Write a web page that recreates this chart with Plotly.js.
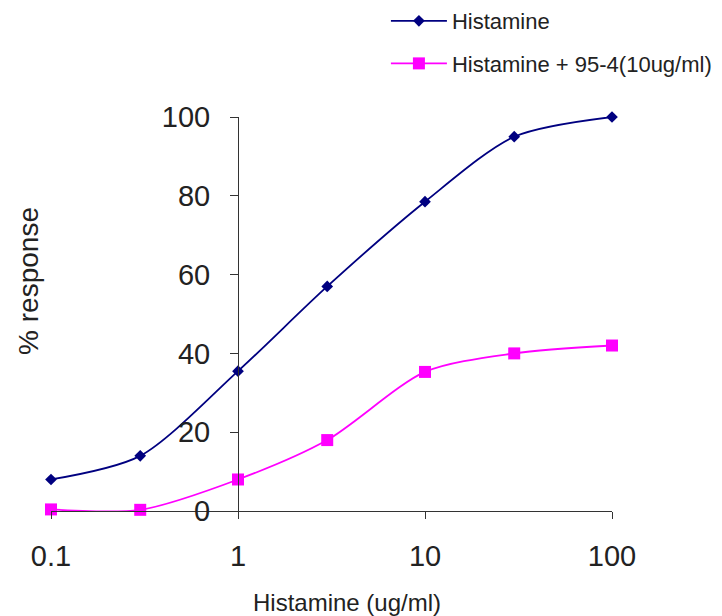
<!DOCTYPE html>
<html>
<head>
<meta charset="utf-8">
<script src="https://cdn.plot.ly/plotly-3.0.1.min.js"></script>
<style>html,body{margin:0;padding:0;background:#fff;}#chart{width:722px;height:616px;}</style>
</head>
<body>
<div id="chart"></div>
<script>
const doses = [0.1, 0.3, 1, 3, 10, 30, 100];
const histamine = [8, 14, 35.5, 57, 78.5, 95, 100];
const histamine954 = [0.4, 0.3, 8, 18, 35.3, 40, 42];
const seriesNames = ["Histamine", "Histamine + 95-4(10ug/ml)"];
const xTickVals = [0.1, 1, 10, 100];
const xTickText = ["0.1", "1", "10", "100"];
const yTickVals = [0, 20, 40, 60, 80, 100];
const xTitle = "Histamine (ug/ml)";
const yTitle = "% response";

const traces = [
  {
    x: doses, y: histamine, name: seriesNames[0], type: "scatter", mode: "lines+markers",
    line: {color: "#000080", width: 1.8, shape: "spline", smoothing: 0.8},
    marker: {symbol: "diamond", size: 9, color: "#000080"},
    cliponaxis: false, legendgroup: "a"
  },
  {
    x: doses, y: histamine954, name: seriesNames[1], type: "scatter", mode: "lines+markers",
    line: {color: "#FF00FF", width: 1.8, shape: "spline", smoothing: 0.8},
    marker: {symbol: "square", size: 12, color: "#FF00FF"},
    cliponaxis: false, legendgroup: "b"
  }
];

const layout = {
  width: 722, height: 616,
  margin: {l: 51, r: 110, t: 117, b: 105, autoexpand: false},
  paper_bgcolor: "#fff", plot_bgcolor: "rgba(0,0,0,0)",
  font: {family: "Liberation Sans, Arial, sans-serif", color: "#222"},
  showlegend: true,
  legend: {
    x: 0.597, y: 1.297, xanchor: "left", yanchor: "top",
    font: {size: 22, color: "#222"},
    itemwidth: 56,
    traceorder: "grouped", tracegroupgap: 11,
    bgcolor: "rgba(0,0,0,0)"
  },
  xaxis: {
    type: "log", range: [-1, 2],
    tickvals: xTickVals, ticktext: xTickText,
    showgrid: false, zeroline: false,
    showline: true, linecolor: "#333", linewidth: 1.2,
    ticks: "outside", ticklen: 7, tickcolor: "#333",
    ticklabelstandoff: 12,
    tickfont: {size: 29, color: "#222"}
  },
  yaxis: {
    range: [0, 100], tickvals: yTickVals,
    anchor: "free", position: 1/3, side: "left",
    showgrid: false, zeroline: false,
    showline: true, linecolor: "#333", linewidth: 1.2,
    ticks: "outside", ticklen: 8, tickcolor: "#333",
    ticklabelstandoff: 14,
    tickfont: {size: 29, color: "#222"}
  },
  annotations: [
    {text: yTitle, xref: "paper", yref: "paper", x: -0.0392, y: 0.584,
     xanchor: "center", yanchor: "middle", textangle: -90, showarrow: false,
     font: {size: 28, color: "#222"}},
    {text: xTitle, xref: "paper", yref: "paper", x: 0.5276, y: -0.2335,
     xanchor: "center", yanchor: "middle", showarrow: false,
     font: {size: 24, color: "#222"}}
  ]
};

Plotly.newPlot("chart", traces, layout, {displayModeBar: false, staticPlot: true});
</script>
</body>
</html>
